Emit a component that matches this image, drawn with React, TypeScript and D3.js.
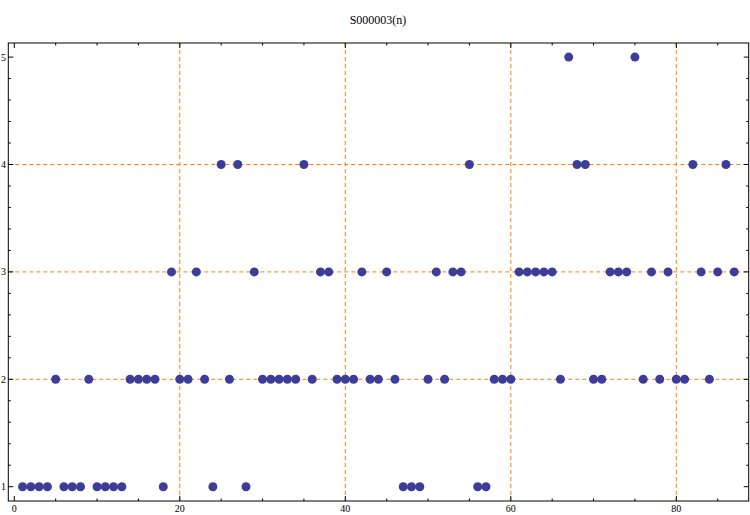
import React, { useEffect, useRef } from "react";
import * as d3 from "d3";

// sequence values for n = 1..87
const values = [
  1, 1, 1, 1, 2, 1, 1, 1, 2, 1, 1, 1, 1, 2, 2, 2, 2, 1, 3, 2, 2, 3, 2, 1, 4, 2, 4, 1, 3, 2,
  2, 2, 2, 2, 4, 2, 3, 3, 2, 2, 2, 3, 2, 2, 3, 2, 1, 1, 1, 2, 3, 2, 3, 3, 4, 1, 1, 2, 2, 2,
  3, 3, 3, 3, 3, 2, 5, 4, 4, 2, 2, 3, 3, 3, 5, 2, 3, 2, 3, 2, 2, 4, 3, 2, 3, 4, 3,
];
const xTicks = [0, 20, 40, 60, 80];
const yTicks = [1, 2, 3, 4, 5];
const xGrid = [20, 40, 60, 80];
const yGrid = [2, 3, 4];
const title = "S000003(n)";

export default function App() {
  const ref = useRef(null);

  useEffect(() => {
    const width = 750;
    const height = 515;
    const left = 8.3;
    const right = 748.7;
    const top = 43;
    const bottom = 501;

    const x = d3.scaleLinear().domain([0, 80]).range([14.3, 676.3]);
    const y = d3.scaleLinear().domain([1, 5]).range([486.7, 57.1]);

    const svg = d3.select(ref.current);
    svg.selectAll("*").remove();
    svg
      .attr("width", width)
      .attr("height", height)
      .style("font-family", "'Liberation Serif', 'DejaVu Serif', serif");

    svg
      .append("text")
      .attr("x", 378)
      .attr("y", 24)
      .attr("text-anchor", "middle")
      .attr("font-size", 12)
      .text(title);

    // dashed grid lines
    const grid = svg
      .append("g")
      .attr("stroke", "#ff8000")
      .attr("stroke-width", 1)
      .attr("stroke-dasharray", "4,3");
    grid
      .selectAll("line.gx")
      .data(xGrid)
      .join("line")
      .attr("x1", (d) => x(d))
      .attr("x2", (d) => x(d))
      .attr("y1", top)
      .attr("y2", bottom);
    grid
      .selectAll("line.gy")
      .data(yGrid)
      .join("line")
      .attr("class", "gy")
      .attr("x1", left)
      .attr("x2", right)
      .attr("y1", (d) => y(d))
      .attr("y2", (d) => y(d));

    // frame ticks
    const xMinor = d3.range(0, 90, 5);
    const yMinor = d3.range(1, 5.2, 0.2).filter((v) => v > 0.86 && v < 5.13);
    const ticks = svg.append("g").attr("stroke", "#000").attr("stroke-width", 1);
    xMinor.forEach((v) => {
      const len = v % 20 === 0 ? 5 : 2.5;
      const px = x(v);
      if (px > right) return;
      ticks.append("line").attr("x1", px).attr("x2", px).attr("y1", bottom).attr("y2", bottom - len);
      ticks.append("line").attr("x1", px).attr("x2", px).attr("y1", top).attr("y2", top + len);
    });
    yMinor.forEach((v) => {
      const major = Math.abs(v - Math.round(v)) < 1e-6;
      const len = major ? 5 : 2.5;
      const py = y(v);
      ticks.append("line").attr("x1", left).attr("x2", left + len).attr("y1", py).attr("y2", py);
      ticks.append("line").attr("x1", right).attr("x2", right - len).attr("y1", py).attr("y2", py);
    });

    svg
      .append("rect")
      .attr("x", left)
      .attr("y", top)
      .attr("width", right - left)
      .attr("height", bottom - top)
      .attr("fill", "none")
      .attr("stroke", "#000")
      .attr("stroke-width", 1);

    // tick labels
    svg
      .append("g")
      .attr("font-size", 10)
      .attr("text-anchor", "middle")
      .selectAll("text")
      .data(xTicks)
      .join("text")
      .attr("x", (d) => x(d))
      .attr("y", 512)
      .text((d) => d);
    svg
      .append("g")
      .attr("font-size", 10)
      .attr("text-anchor", "end")
      .selectAll("text")
      .data(yTicks)
      .join("text")
      .attr("x", 6)
      .attr("y", (d) => y(d) + 3.5)
      .text((d) => d);

    // points
    svg
      .append("g")
      .attr("fill", "#3d3d99")
      .selectAll("circle")
      .data(values)
      .join("circle")
      .attr("cx", (d, i) => x(i + 1))
      .attr("cy", (d) => y(d))
      .attr("r", 4.5);
  }, []);

  return (
    <svg
      ref={ref}
      style={{ position: "absolute", left: 0, top: 0, background: "#fff" }}
    />
  );
}
